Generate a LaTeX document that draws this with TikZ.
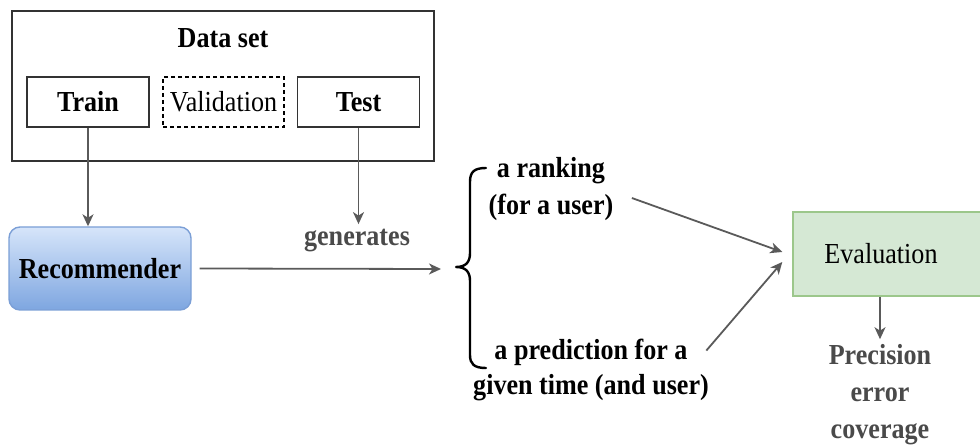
\documentclass[tikz,border=0pt]{standalone}
\usepackage{fontspec}
\setmainfont{Liberation Serif}[FakeStretch=0.9]
\usetikzlibrary{arrows.meta}
\definecolor{linegray}{HTML}{5A5A5A}
\definecolor{framegray}{HTML}{333333}
\definecolor{textgray}{HTML}{4A4A4A}
\definecolor{recfill1}{HTML}{D6E5FA}
\definecolor{recfill2}{HTML}{7EA6E0}
\definecolor{recline}{HTML}{7B9FD6}
\definecolor{evalfill}{HTML}{D5E8D4}
\definecolor{evalline}{HTML}{9CC78B}
\begin{document}
\begin{tikzpicture}[x=1pt,y=-1pt,
  font=\fontsize{29}{37}\selectfont,
  frame/.style={draw=framegray,line width=1.8pt,inner sep=0pt},
  part/.style={draw=framegray,line width=1.8pt,minimum width=122pt,minimum height=50pt,inner sep=0pt,font=\fontsize{29}{37}\selectfont\bfseries},
  dashedpart/.style={draw=black,line width=1.4pt,dash pattern=on 4pt off 3pt,minimum width=121pt,minimum height=50pt,inner sep=0pt},
  recbox/.style={draw=recline,line width=1.4pt,rounded corners=11pt,top color=recfill1,bottom color=recfill2,minimum width=182pt,minimum height=83pt,inner sep=0pt,font=\fontsize{29}{37}\selectfont\bfseries},
  evalbox/.style={draw=evalline,fill=evalfill,line width=1.4pt,minimum width=192pt,minimum height=84pt,inner sep=0pt},
  boldtext/.style={font=\fontsize{29}{37}\selectfont\bfseries,align=center},
  graytext/.style={boldtext,text=textgray},
  arrow/.style={draw=linegray,line width=1.8pt,-{Stealth[length=12pt,width=11pt,inset=3.5pt]}},
  bracestyle/.style={draw=black,line width=2.4pt,line cap=round,line join=round}]
\useasboundingbox (0,0) rectangle (980,446);

% data set container with its three parts
\node[frame,minimum width=422pt,minimum height=150pt] (dataset) at (223,86) {};
\node[boldtext] (dstitle) at (223,38) {Data set};
\node[part] (train) at (88,102) {Train};
\node[dashedpart] (valid) at (223.5,102) {Validation};
\node[part] (test) at (358.5,102) {Test};

% recommender and what it generates
\node[recbox] (rec) at (100,268.5) {Recommender};
\node[graytext] (gen) at (357,241) {generates};
\coordinate (bracetip) at (441,269);

\draw[arrow] (train.south) -- (train.south |- rec.north);
\draw[arrow] (test.south) -- ([yshift=2pt]test.south |- gen.north);
\draw[arrow] ([xshift=8pt]rec.east) -- (bracetip);

% curly brace grouping the two outputs
\draw[bracestyle] (486,168) .. controls (474,168) and (470,172) .. (470,182)
  -- (470,253) .. controls (470,262) and (466,267) .. (456,267)
  .. controls (466,267) and (470,272) .. (470,281)
  -- (470,355) .. controls (470,364) and (474,368) .. (486,368);

\node[boldtext] (rank) at (551,189) {a ranking\\(for a user)};
\node[boldtext,font=\fontsize{29}{35}\selectfont\bfseries] (pred) at (591,370) {a prediction for a\\given time (and user)};

% evaluation stage
\node[evalbox,label={[xshift=-8pt]center:Evaluation}] (eval) at (889,254) {};
\node[graytext] (metrics) at (880,395) {Precision\\error\\coverage};

\draw[arrow] ([xshift=15pt,yshift=-9pt]rank.east) -- ([xshift=-10pt,yshift=2pt]eval.west);
\draw[arrow] ([xshift=-6pt,yshift=-15pt]pred.north east) -- ([xshift=-10pt,yshift=-8pt]eval.west);
\draw[arrow] (eval.south -| metrics) -- ([yshift=2pt]metrics.north);
\end{tikzpicture}
\end{document}
